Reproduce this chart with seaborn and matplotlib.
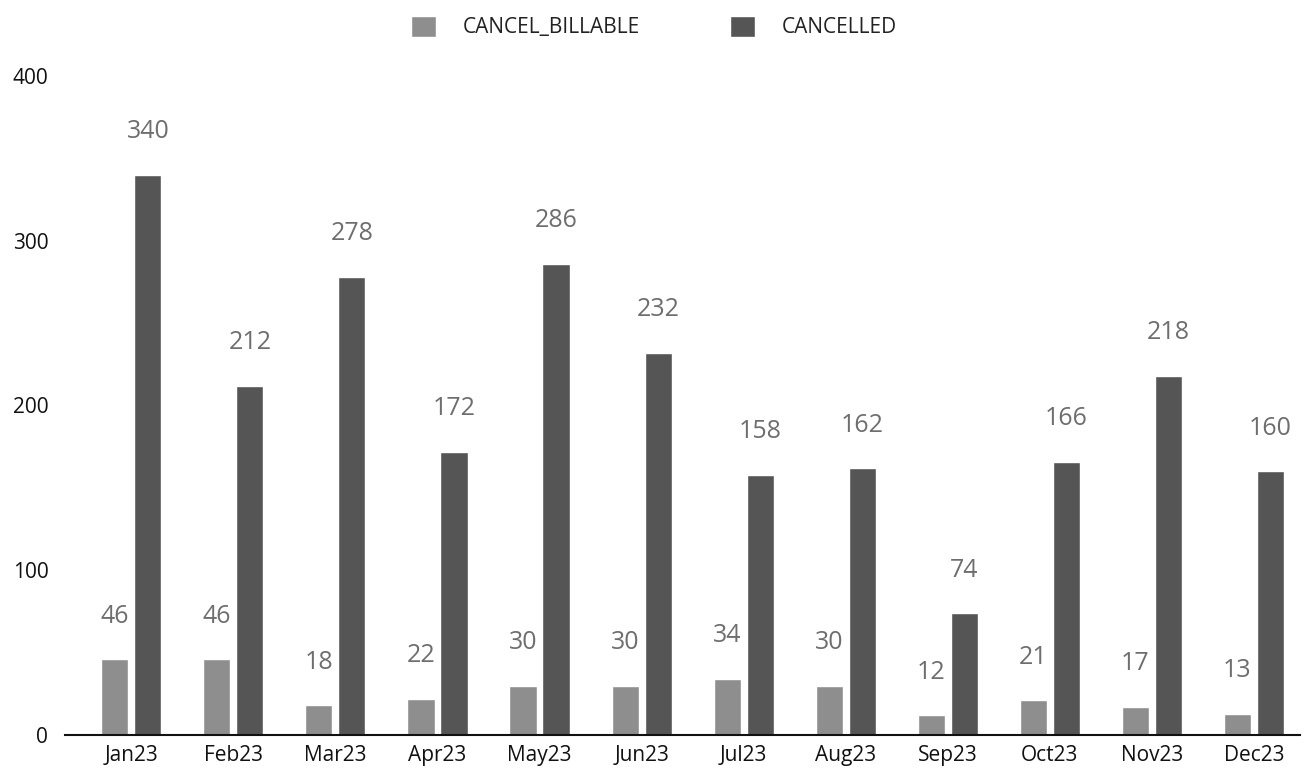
import matplotlib
matplotlib.use("Agg")
import matplotlib.pyplot as plt
import seaborn as sns
import pandas as pd

months = ["Jan23", "Feb23", "Mar23", "Apr23", "May23", "Jun23",
          "Jul23", "Aug23", "Sep23", "Oct23", "Nov23", "Dec23"]
cancel_billable = [46, 46, 18, 22, 30, 30, 34, 30, 12, 21, 17, 13]
cancelled = [340, 212, 278, 172, 286, 232, 158, 162, 74, 166, 218, 160]
series = ["CANCEL_BILLABLE", "CANCELLED"]

df = pd.DataFrame({
    "month": months * 2,
    "status": [series[0]] * 12 + [series[1]] * 12,
    "count": cancel_billable + cancelled,
})

sns.set_style("white")
plt.rcParams["font.family"] = ["Open Sans", "DejaVu Sans"]

fig = plt.figure(figsize=(13.08, 7.81), dpi=100)
ax = fig.add_axes([0.0497, 0.0589, 0.944, 0.8438])

sns.barplot(data=df, x="month", y="count", hue="status", order=months,
            hue_order=series, palette=["#8e8e8e", "#555555"],
            width=0.647, gap=0.18, saturation=1, ax=ax)

# value labels above each bar
for cont in ax.containers:
    for bar in cont:
        h = bar.get_height()
        ax.annotate(f"{h:.0f}", (bar.get_x() + bar.get_width() / 2, h),
                    xytext=(0, 22), textcoords="offset points",
                    ha="center", va="bottom", fontsize=18, color="#6e6e6e")

ax.set_ylim(0, 400)
ax.set_xlim(-0.65, 11.45)
ax.set_yticks([0, 100, 200, 300, 400])
ax.set_xlabel("")
ax.set_ylabel("")
ax.tick_params(axis="both", length=0, labelsize=15, colors="#111111")
ax.tick_params(axis="x", pad=7)
ax.tick_params(axis="y", pad=12)
for s in ["top", "right", "left"]:
    ax.spines[s].set_visible(False)
ax.spines["bottom"].set_color("#111111")
ax.spines["bottom"].set_linewidth(1.5)

leg = ax.legend(loc="upper center", bbox_to_anchor=(0.477, 1.12), ncol=2,
                frameon=False, fontsize=15, handlelength=1.2, handleheight=1.2,
                columnspacing=4.3, handletextpad=1.3)
for t in leg.get_texts():
    t.set_color("#222222")

fig.savefig("out.png", dpi=100)
